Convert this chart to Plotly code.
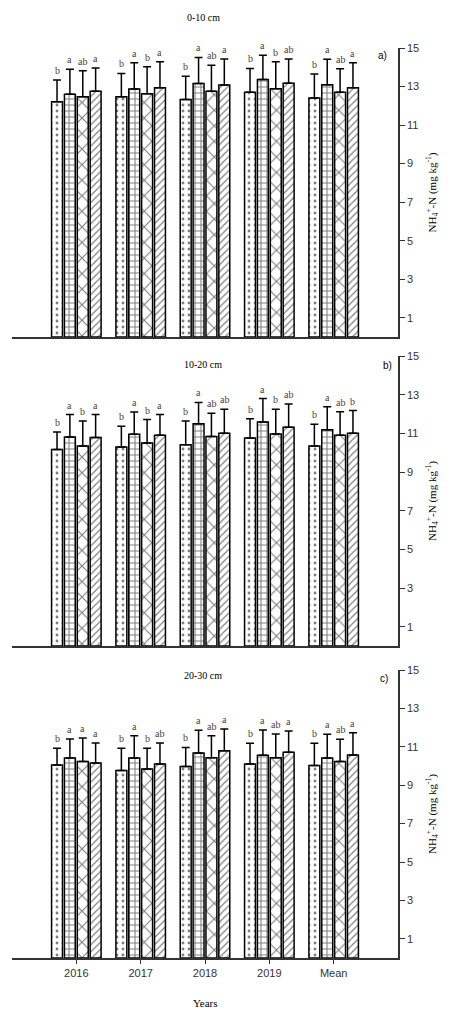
import plotly.graph_objects as go

years = ["2016", "2017", "2018", "2019", "Mean"]

# Panel a) 0-10 cm : bar means and upper error-bar ends, 4 treatments
a_vals = [[12.21, 12.47, 12.33, 12.70, 12.40],
          [12.60, 12.87, 13.16, 13.37, 13.09],
          [12.47, 12.63, 12.75, 12.89, 12.70],
          [12.75, 12.94, 13.08, 13.17, 12.94]]
a_err = [[13.34, 13.68, 13.54, 13.94, 13.65],
         [13.90, 14.23, 14.51, 14.63, 14.41],
         [13.82, 14.03, 14.11, 14.29, 13.92],
         [13.96, 14.29, 14.43, 14.43, 14.23]]
a_let = [["b", "b", "b", "b", "b"],
         ["a", "a", "a", "a", "a"],
         ["ab", "b", "ab", "b", "ab"],
         ["a", "a", "a", "ab", "a"]]

# Panel b) 10-20 cm
b_vals = [[10.16, 10.29, 10.41, 10.76, 10.35],
          [10.81, 10.95, 11.49, 11.59, 11.19],
          [10.35, 10.50, 10.83, 10.97, 10.90],
          [10.78, 10.90, 11.00, 11.31, 11.00]]
b_err = [[11.07, 11.36, 11.64, 11.76, 11.47],
         [11.97, 12.10, 12.60, 12.80, 12.37],
         [11.64, 11.71, 12.04, 12.24, 12.11],
         [11.97, 11.97, 12.24, 12.52, 12.18]]
b_let = [["b", "b", "b", "b", "b"],
         ["a", "a", "a", "a", "a"],
         ["b", "b", "ab", "b", "ab"],
         ["a", "a", "ab", "ab", "b"]]

# Panel c) 20-30 cm
c_vals = [[10.05, 9.76, 9.97, 10.10, 10.02],
          [10.42, 10.42, 10.68, 10.56, 10.42],
          [10.24, 9.84, 10.43, 10.43, 10.24],
          [10.16, 10.10, 10.80, 10.71, 10.57]]
c_err = [[10.92, 10.92, 10.97, 11.18, 11.18],
         [11.41, 11.58, 11.86, 11.88, 11.65],
         [11.46, 10.92, 11.58, 11.67, 11.39],
         [11.20, 11.20, 11.93, 11.82, 11.73]]
c_let = [["b", "b", "b", "b", "b"],
         ["a", "a", "a", "a", "a"],
         ["a", "b", "ab", "ab", "ab"],
         ["a", "ab", "a", "a", "a"]]

panel_titles = ["0-10 cm", "10-20 cm", "20-30 cm"]
panel_tags = ["a)", "b)", "c)"]
yticks = [1, 3, 5, 7, 9, 11, 13, 15]

patterns = [".", "+", "x", "/"]
psizes = [6, 6, 11, 5]
psolid = [0.18, 0.32, 0.2, 0.25]

OFF = 8  # page body margin of the html
W, H = 460 - OFF, 1012 - OFF
mt, mb = 12, 32
ml, mr = 12 - OFF, 460 - 398
pw = W - ml - mr
ph = H - mt - mb


def fy(px):  # screen pixel y -> paper fraction
    return 1 - (px - OFF - mt) / ph


def fx(px):  # screen pixel x -> paper fraction
    return (px - OFF - ml) / pw


domains = [(fy(337), fy(48)), (fy(646), fy(356)), (fy(958), fy(670))]
title_y = [18, 364, 675]
tag_pos = [(382, 56), (387, 365), (384, 678)]

fig = go.Figure()
xs = list(range(len(years)))
bargap = 0.2
slot = (1 - bargap) / 4
offsets = [(-1.5 + k) * slot for k in range(4)]

panels = [(a_vals, a_err, a_let), (b_vals, b_err, b_let), (c_vals, c_err, c_let)]
serif = "Liberation Serif"
sans = "Liberation Sans"

annotations = []
for p, (vals, errs, lets) in enumerate(panels):
    suf = "" if p == 0 else str(p + 1)
    for k in range(4):
        fig.add_trace(go.Bar(
            x=xs, y=vals[k],
            xaxis="x" + suf, yaxis="y" + suf,
            marker=dict(color="white",
                        line=dict(color="black", width=1.5),
                        pattern=dict(shape=patterns[k], fgcolor="black",
                                     bgcolor="white", size=psizes[k],
                                     solidity=psolid[k])),
            error_y=dict(type="data", symmetric=False,
                         array=[e - v for e, v in zip(errs[k], vals[k])],
                         arrayminus=[0] * len(xs),
                         color="black", thickness=1.5, width=4),
            showlegend=False,
        ))
        for i in xs:
            annotations.append(dict(
                x=i + offsets[k], y=errs[k][i], xref="x" + suf, yref="y" + suf,
                text=lets[k][i], showarrow=False, yanchor="bottom", yshift=2,
                font=dict(family=serif, size=10, color="#4a4038")))
    annotations.append(dict(x=fx(203), y=fy(title_y[p]),
                            xref="paper", yref="paper", text=panel_titles[p],
                            showarrow=False, xanchor="center", yanchor="middle",
                            font=dict(family=serif, size=10, color="black")))
    annotations.append(dict(x=fx(tag_pos[p][0]), y=fy(tag_pos[p][1]),
                            xref="paper", yref="paper",
                            text=panel_tags[p], showarrow=False,
                            xanchor="center", yanchor="middle",
                            font=dict(family=sans, size=10, color="black")))

annotations.append(dict(x=fx(205), y=fy(1003), xref="paper", yref="paper",
                        text="Years", showarrow=False, yanchor="middle",
                        font=dict(family=serif, size=11, color="black")))

layout = dict(
    width=W, height=H,
    margin=dict(l=ml, r=mr, t=mt, b=mb),
    paper_bgcolor="white", plot_bgcolor="white",
    barmode="group", bargap=bargap, bargroupgap=0.15,
    annotations=annotations,
)
for p in range(3):
    suf = "" if p == 0 else str(p + 1)
    last = p == 2
    layout["xaxis" + suf] = dict(
        domain=[0, 1], anchor="y" + suf, range=[-1, 5],
        tickvals=xs, ticktext=years,
        showticklabels=last, ticks="outside" if last else "",
        ticklen=4, tickcolor="#333", tickwidth=1.2,
        showline=True, linecolor="#333", linewidth=1.5,
        showgrid=False, zeroline=False,
        tickfont=dict(family=sans, size=11, color="#333"),
    )
    layout["yaxis" + suf] = dict(
        domain=list(domains[p]), anchor="x" + suf, side="right",
        range=[0, 15], tickvals=yticks, ticks="outside", ticklen=5,
        tickcolor="#333", tickwidth=1.2,
        showline=True, linecolor="#333", linewidth=1.5,
        showgrid=False, zeroline=False,
        tickfont=dict(family=sans, size=11, color="#333"),
        title=dict(text="NH<sub>4</sub><sup>+</sup>-N (mg kg<sup>-1</sup>)",
                   font=dict(family=serif, size=11, color="black"), standoff=10),
    )

fig.update_layout(**layout)
fig.write_html("out.html")
